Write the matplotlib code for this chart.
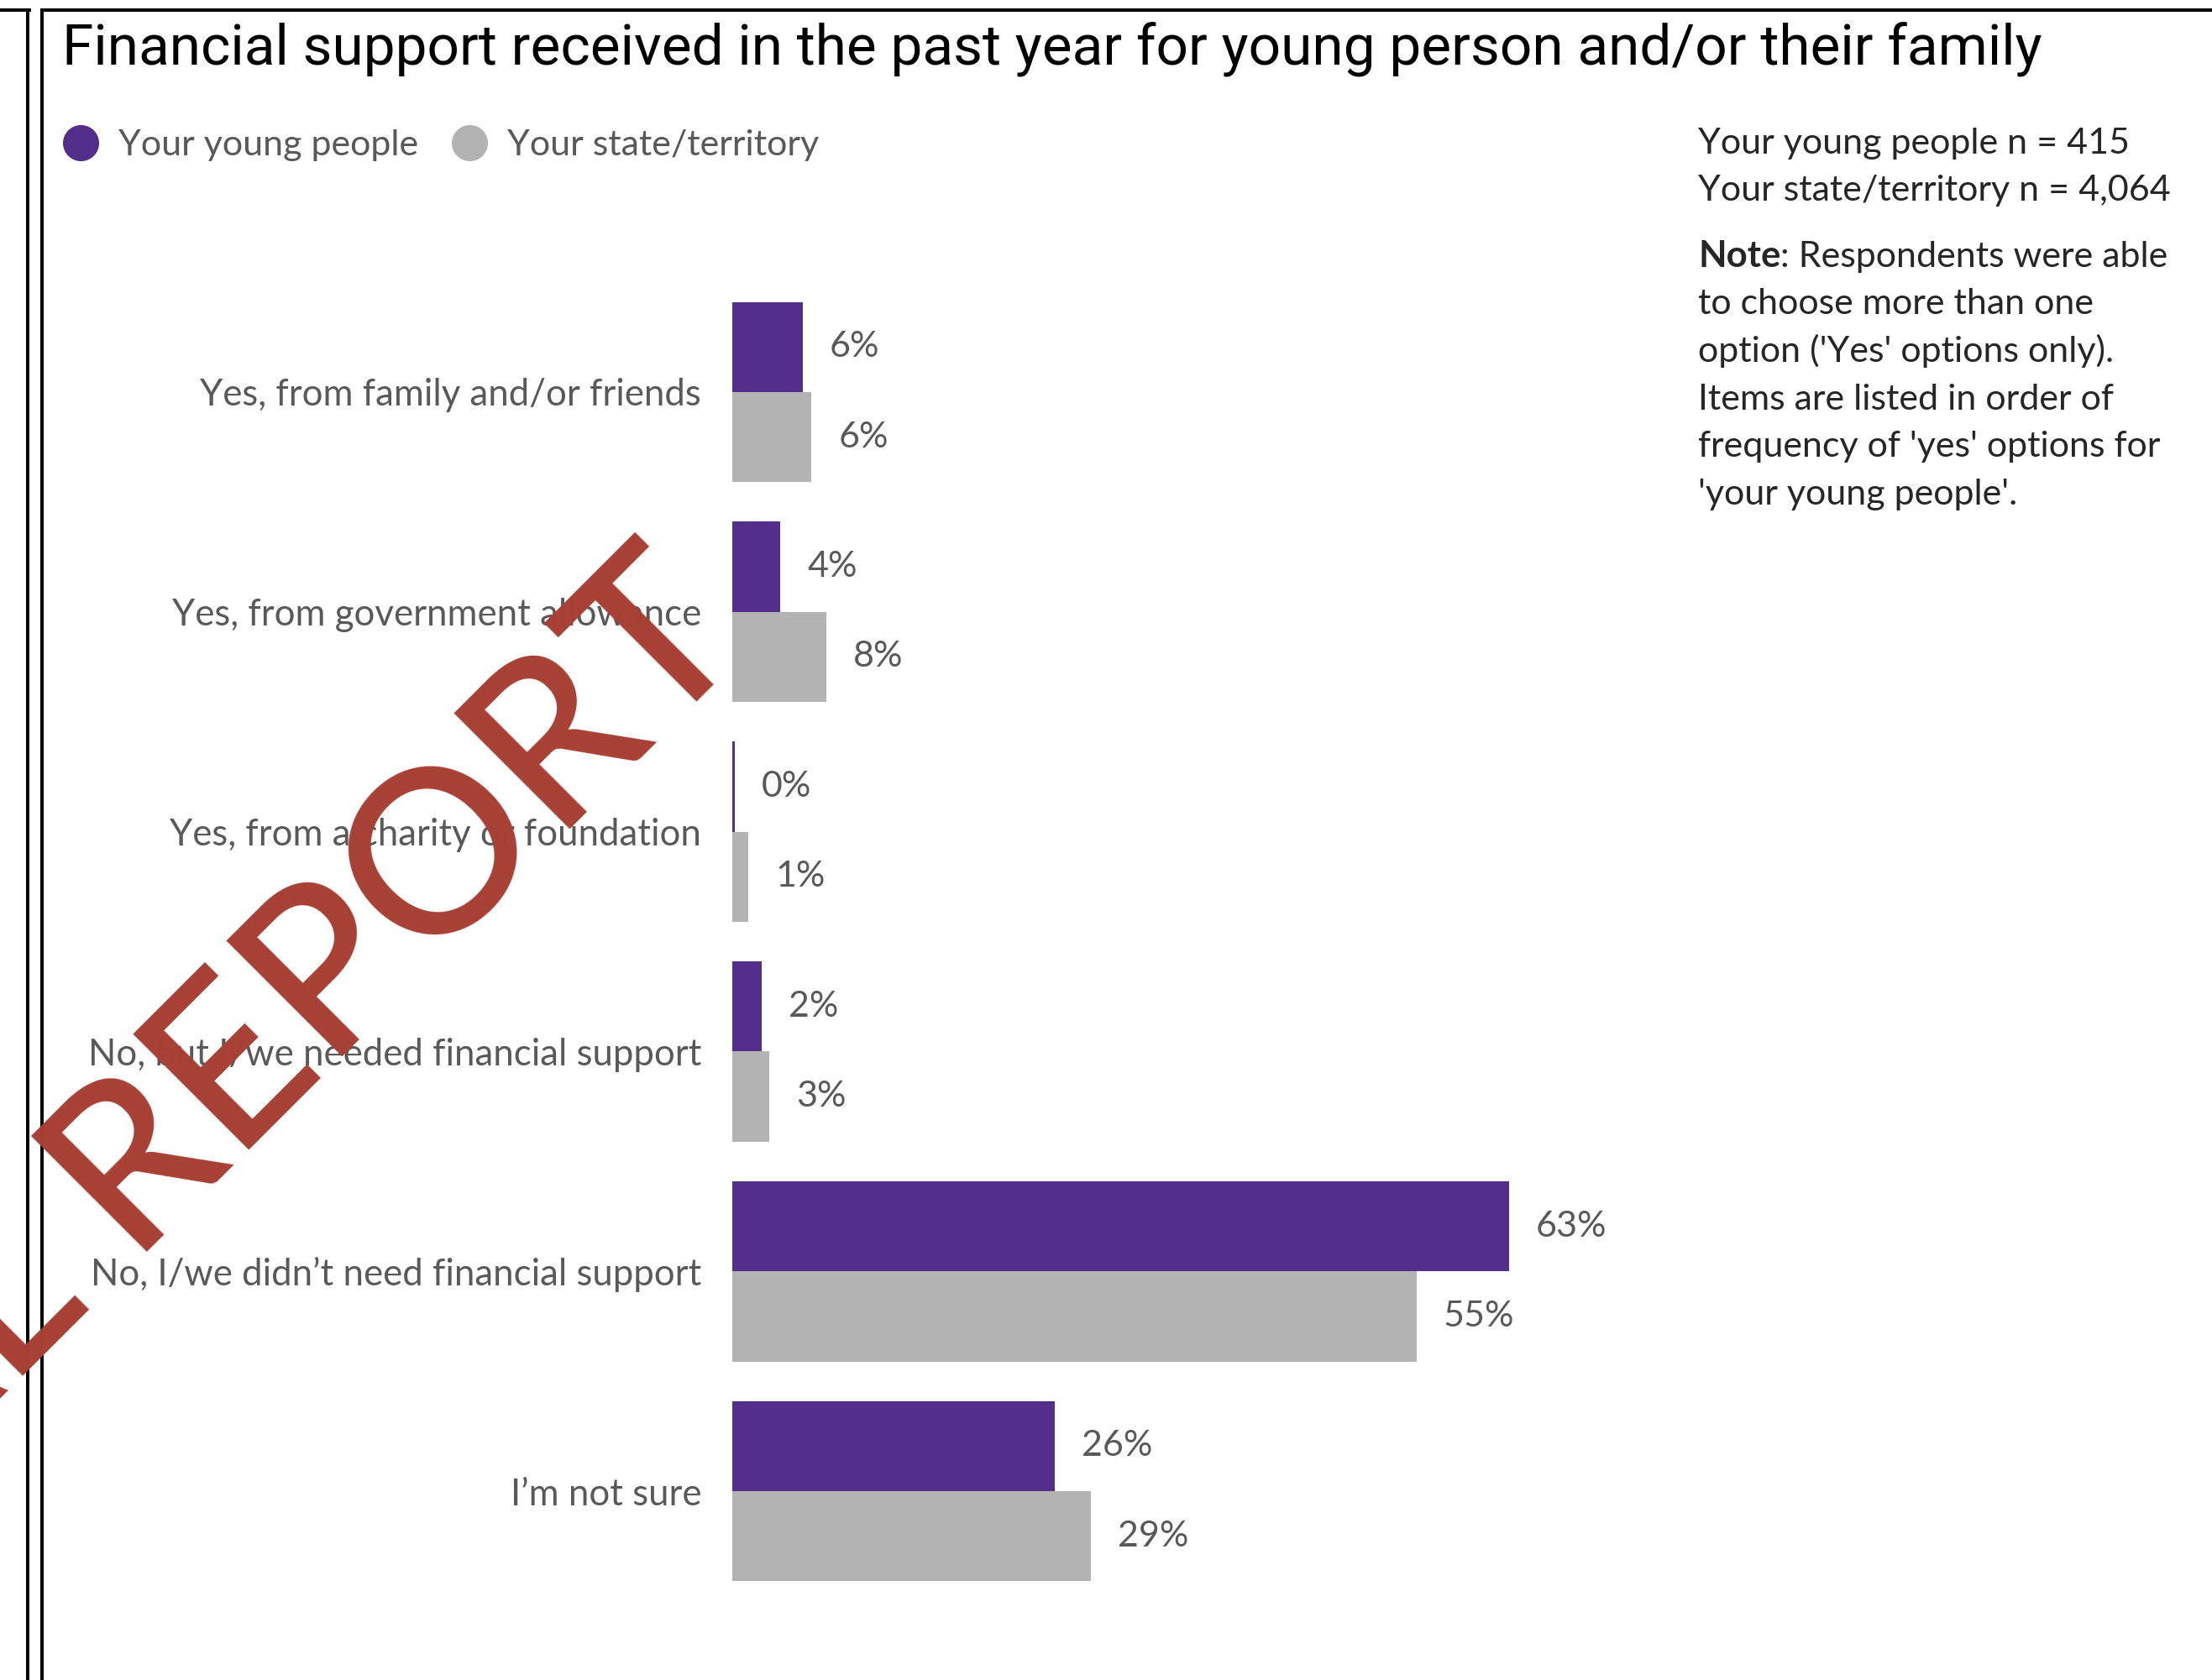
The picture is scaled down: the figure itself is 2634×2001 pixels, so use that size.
import numpy as np
import matplotlib
matplotlib.use("Agg")
import matplotlib.pyplot as plt
from matplotlib.lines import Line2D

W, H = 2634, 2001

CATEGORIES = [
    "Yes, from family and/or friends",
    "Yes, from government allowance",
    "Yes, from a charity or foundation",
    "No, but I/we needed financial support",
    "No, I/we didn\u2019t need financial support",
    "I\u2019m not sure",
]
YOUNG_PEOPLE = [5.7, 3.9, 0.2, 2.4, 62.8, 26.1]
STATE_TERRITORY = [6.4, 7.6, 1.3, 3.0, 55.3, 29.0]
SERIES = ["Your young people", "Your state/territory"]
SAMPLE_SIZES = ["415", "4,064"]
COLORS = ["#522D8A", "#B3B3B3"]
TITLE = "Financial support received in the past year for young person and/or their family"
NOTE_REST = [
    ": Respondents were able",
    "to choose more than one",
    "option ('Yes' options only).",
    "Items are listed in order of",
    "frequency of 'yes' options for",
    "'your young people'.",
]
WATERMARK = "FINAL REPORT"

GREY_TEXT = "#595959"
DARK_TEXT = "#262626"
BODY_FONT = "Lato"
FS = 31.5


def fx(px):
    return px / W


def fy(py):
    return 1 - py / H


def main():
    fig = plt.figure(figsize=(W / 100, H / 100), dpi=100)

    # frame lines at the left / top edge
    lw = 4 * 72 / 100
    for line in [([0, fx(35)], [fy(12), fy(12)]),
                 ([fx(33), fx(33)], [fy(12), 0]),
                 ([fx(50), 1], [fy(12), fy(12)]),
                 ([fx(50), fx(50)], [fy(12), 0])]:
        fig.add_artist(Line2D(*line, color="black", lw=lw, solid_capstyle="projecting"))

    fig.text(fx(74), fy(78), TITLE, fontsize=48.6, family="Roboto", color="black",
             ha="left", va="baseline")

    # legend
    leg_x = [96, 559]
    for name, col, x0 in zip(SERIES, COLORS, leg_x):
        fig.add_artist(Line2D([fx(x0)], [fy(170)], marker="o", markersize=30,
                              color=col, linestyle="none"))
        fig.text(fx(x0 + 45), fy(173), name, fontsize=FS - 0.5, family=BODY_FONT,
                 color=GREY_TEXT, ha="left", va="center")

    # sample sizes + note
    for i, (name, n) in enumerate(zip(SERIES, SAMPLE_SIZES)):
        fig.text(fx(2022), fy(183 + 55.5 * i), f"{name} n = {n}", fontsize=FS - 0.5,
                 family=BODY_FONT, color=DARK_TEXT, ha="left", va="baseline")
    note = fig.text(fx(2022), fy(318), "Note", fontsize=FS, family=BODY_FONT,
                    weight="bold", color=DARK_TEXT, ha="left", va="baseline")
    note_end = note.get_window_extent(renderer=fig.canvas.get_renderer()).x1
    for i, line in enumerate(NOTE_REST):
        x0 = note_end / W if i == 0 else fx(2022)
        fig.text(x0, fy(318 + 56.5 * i), line, fontsize=FS - 0.5, family=BODY_FONT,
                 color=DARK_TEXT, ha="left", va="baseline")

    # bars
    ax = fig.add_axes([fx(872), fy(1907), 1473 / W, (1907 - 336) / H])
    y = np.arange(len(CATEGORIES))
    h = 0.41
    for k, (vals, col) in enumerate(zip([YOUNG_PEOPLE, STATE_TERRITORY], COLORS)):
        bars = ax.barh(y + (k - 0.5) * h, vals, height=h, color=col)
        ax.bar_label(bars, labels=[f"{v:.0f}%" for v in vals], padding=23,
                     color=GREY_TEXT, fontsize=31, family=BODY_FONT)
    ax.set_xlim(0, 100)
    ax.set_ylim(len(CATEGORIES) - 0.5, -0.5)
    ax.set_yticks(y, CATEGORIES, fontsize=FS, family=BODY_FONT, color=GREY_TEXT)
    ax.tick_params(axis="y", length=0, pad=37 * 72 / 100)
    ax.set_xticks([])
    for s in ax.spines.values():
        s.set_visible(False)

    # watermark
    fig.text(fx(898), fy(768), WATERMARK, rotation=45, rotation_mode="anchor",
             ha="right", va="baseline", fontsize=196, family=BODY_FONT,
             weight=500, color="#A84034", zorder=10)

    fig.savefig("out.png", dpi=100)
    plt.close(fig)


if __name__ == "__main__":
    main()
